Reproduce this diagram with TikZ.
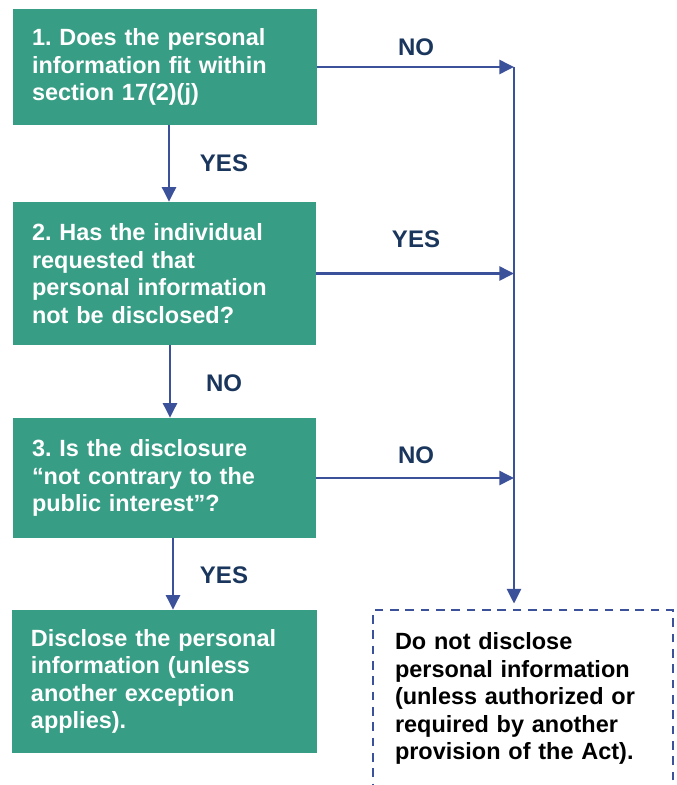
\documentclass[tikz,border=0pt]{standalone}
\usepackage{fontspec}
\setmainfont{Liberation Sans}
\usetikzlibrary{arrows.meta}
\definecolor{boxgreen}{HTML}{389D85}
\definecolor{arrowblue}{HTML}{3B5199}
\definecolor{labelnavy}{HTML}{1A365D}
\frenchspacing
\begin{document}
\begin{tikzpicture}[x=0.75pt, y=-0.75pt,
  qbox/.style={rectangle, fill=boxgreen, text=white, font=\fontsize{17.6}{20.6}\selectfont\bfseries,
    align=left, inner xsep=14.25pt, inner ysep=0pt},
  endbox/.style={rectangle, draw=arrowblue, line width=1.6pt, dash pattern=on 6.5pt off 5pt,
    font=\fontsize{17.6}{20.6}\selectfont\bfseries, align=left, inner xsep=16.5pt, inner ysep=0pt},
  lbl/.style={text=labelnavy, font=\fontsize{18}{20}\selectfont\bfseries},
  arr/.style={draw=arrowblue, line width=1.9pt, -{Triangle[length=11pt, width=10.5pt]}}]
\useasboundingbox (0,0) rectangle (676,785);
\clip (0,0) rectangle (676,785);
\node[qbox, text width=199.5pt, minimum height=87pt] (q1) at (165,67)
  {1. Does the personal\\information fit within\\section 17(2)(j)};
\node[qbox, text width=198.75pt, minimum height=107.25pt] (q2) at (164.5,273.5)
  {2. Has the individual\\requested that\\personal information\\not be disclosed?};
\node[qbox, text width=198.75pt, minimum height=90pt] (q3) at (164.5,478)
  {3. Is the disclosure\\``not contrary to the\\public interest''?};
\node[qbox, text width=200.25pt, minimum height=107.25pt] (dis) at (164.5,681.5)
  {Disclose the personal\\information (unless\\another exception\\applies).};
\node[endbox, text width=192pt, minimum height=132.75pt] (nodis) at (523,698.5)
  {Do not disclose\\personal information\\(unless authorized or\\required by another\\provision of the Act).};
% connectors
\coordinate (bus) at (514,0);
\coordinate (c1) at (169,0);
\coordinate (c2) at (170,0);
\coordinate (c3) at (173,0);
\draw[arr] (q1.south -| c1) -- (q2.north -| c1);
\draw[arr] (q2.south -| c2) -- (q3.north -| c2);
\draw[arr] (q3.south -| c3) -- (dis.north -| c3);
\draw[arr] (q1.east) -- (q1.east -| bus);
\draw[arr] (q2.east) -- (q2.east -| bus);
\draw[arr] (q3.east) -- (q3.east -| bus);
\draw[arr] (q1.east -| bus) -- ([yshift=4pt]nodis.north -| bus);
% labels
\node[lbl] (l1) at (416,47) {NO};
\node[lbl] (l2) at (224,163) {YES};
\node[lbl] (l3) at (416,239) {YES};
\node[lbl] (l4) at (224,383) {NO};
\node[lbl] (l5) at (416,455) {NO};
\node[lbl] (l6) at (224,575) {YES};
\end{tikzpicture}
\end{document}
